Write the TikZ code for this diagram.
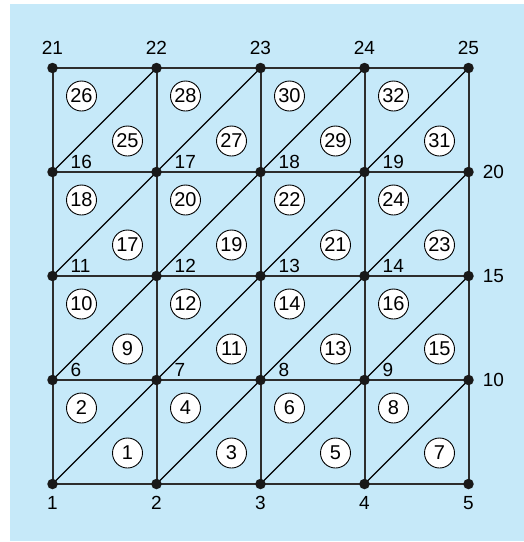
\documentclass[tikz,border=0pt]{standalone}
\usepackage{fontspec}
\setmainfont{Liberation Sans}
\usetikzlibrary{calc}
\definecolor{bgblue}{RGB}{198,233,249}
\definecolor{gridline}{RGB}{45,45,45}
\tikzset{
  gridedge/.style={draw=gridline, line width=2pt},
  diagedge/.style={draw=black, line width=1.1pt},
  dot/.style={circle, fill=black!90, inner sep=0pt, minimum size=10.5pt},
  elem/.style={circle, draw=black, fill=white, line width=0.9pt, inner sep=0pt, minimum size=30pt, font=\fontsize{20}{20}\selectfont},
  nlabel/.style={inner sep=0pt, font=\fontsize{19}{19}\selectfont}
}
\begin{document}
\begin{tikzpicture}[x=1pt,y=-1pt]
\useasboundingbox (0,0) rectangle (524,542);
\fill[bgblue] (10,4) rectangle (524,541);
% node coordinates
\foreach \r in {0,...,4}{
  \foreach \c in {0,...,4}{
    \pgfmathtruncatemacro{\n}{5*\r+\c+1}
    \coordinate (n\n) at ({52.5+104*\c},{484-104*\r});
  }
}
% grid lines
\foreach \r in {0,...,4}{
  \pgfmathtruncatemacro{\a}{5*\r+1}
  \pgfmathtruncatemacro{\b}{5*\r+5}
  \draw[gridedge] (n\a) -- (n\b);
}
\foreach \c in {1,...,5}{
  \pgfmathtruncatemacro{\b}{20+\c}
  \draw[gridedge] (n\c) -- (n\b);
}
% diagonals
\foreach \r in {0,...,3}{
  \foreach \c in {0,...,3}{
    \pgfmathtruncatemacro{\a}{5*\r+\c+1}
    \pgfmathtruncatemacro{\b}{5*\r+\c+7}
    \draw[diagedge] (n\a) -- (n\b);
  }
}
% dots
\foreach \n in {1,...,25}{
  \node[dot] (d\n) at (n\n) {};
}
% element circles
\foreach \r in {0,...,3}{
  \foreach \c in {0,...,3}{
    \pgfmathtruncatemacro{\lr}{8*\r+2*\c+1}
    \pgfmathtruncatemacro{\ul}{8*\r+2*\c+2}
    \pgfmathsetmacro{\xl}{52.5+104*\c}
    \pgfmathsetmacro{\yt}{484-104*(\r+1)}
    \node[elem] (e\ul) at ({\xl+29},{\yt+28}) {\ul};
    \node[elem] (e\lr) at ({\xl+75},{\yt+73}) {\lr};
  }
}
% node labels
\foreach \n in {1,...,5}{
  \node[nlabel] (l\n) at ($(n\n)+(0,19)$) {\n};
}
\foreach \n in {21,...,25}{
  \node[nlabel] (l\n) at ($(n\n)+(0,-20)$) {\n};
}
\foreach \n in {10,15,20}{
  \node[nlabel] (l\n) at ($(n\n)+(25,0)$) {\n};
}
\foreach \n in {6,7,8,9,11,12,13,14,16,17,18,19}{
  \node[nlabel, anchor=base west] (l\n) at ($(n\n)+(18,-4)$) {\n};
}
\end{tikzpicture}
\end{document}
